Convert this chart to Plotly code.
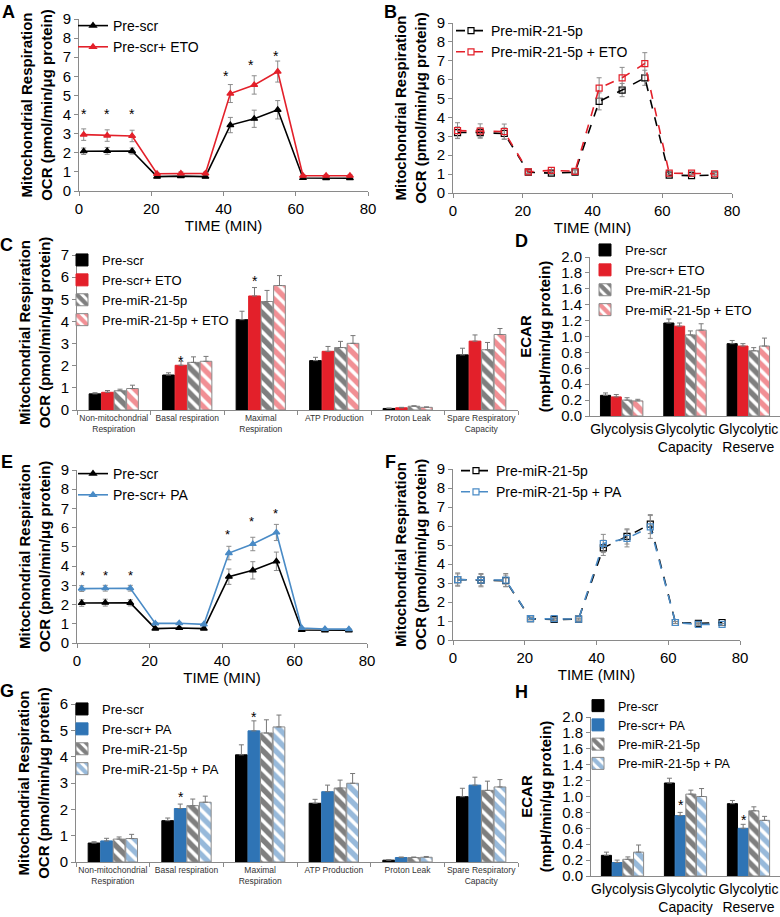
import plotly.graph_objects as go

W, H = 780, 917
FONT = "Liberation Sans"
AXC = "#8a8a8a"
RED = "#e3202a"
BLUE_BAR = "#2f74b5"
BLUE_LINE = "#4a8bc6"

# ---------------- data ----------------
time_min = [1.3, 7.8, 14.7, 21.6, 28.2, 35.0, 41.9, 48.5, 55.0, 62.0, 68.4, 75.0]

a_scr = [2.08, 2.10, 2.09, 0.75, 0.78, 0.75, 3.45, 3.78, 4.25, 0.68, 0.67, 0.67]
a_scr_err = [0.17, 0.18, 0.16, 0.06, 0.06, 0.06, 0.40, 0.45, 0.48, 0.05, 0.05, 0.05]
a_eto = [2.95, 2.90, 2.88, 0.90, 0.92, 0.92, 5.10, 5.55, 6.25, 0.80, 0.80, 0.80]
a_eto_err = [0.30, 0.30, 0.30, 0.07, 0.08, 0.07, 0.47, 0.48, 0.55, 0.05, 0.05, 0.05]

b_mir = [3.20, 3.20, 3.15, 1.10, 1.05, 1.10, 4.85, 5.45, 6.10, 0.95, 0.92, 0.95]
b_mir_err = [0.30, 0.25, 0.30, 0.05, 0.08, 0.08, 0.45, 0.35, 0.40, 0.05, 0.05, 0.05]
b_eto = [3.30, 3.28, 3.25, 1.12, 1.20, 1.15, 5.55, 6.10, 6.85, 1.05, 1.05, 1.02]
b_eto_err = [0.42, 0.38, 0.40, 0.08, 0.15, 0.10, 0.55, 0.55, 0.58, 0.06, 0.08, 0.06]

e_scr = [2.08, 2.10, 2.09, 0.75, 0.78, 0.75, 3.45, 3.78, 4.25, 0.68, 0.66, 0.66]
e_scr_err = [0.17, 0.18, 0.16, 0.06, 0.06, 0.06, 0.40, 0.45, 0.48, 0.05, 0.05, 0.05]
e_pa = [2.83, 2.85, 2.85, 1.02, 1.03, 0.97, 4.68, 5.15, 5.75, 0.78, 0.73, 0.72]
e_pa_err = [0.15, 0.15, 0.15, 0.05, 0.05, 0.05, 0.35, 0.35, 0.42, 0.03, 0.03, 0.03]

f_mir = [3.18, 3.15, 3.12, 1.12, 1.08, 1.10, 4.85, 5.45, 6.10, 0.92, 0.88, 0.92]
f_mir_err = [0.30, 0.30, 0.30, 0.05, 0.05, 0.05, 0.40, 0.40, 0.50, 0.05, 0.05, 0.05]
f_pa = [3.18, 3.15, 3.15, 1.12, 1.12, 1.10, 5.08, 5.35, 5.95, 0.92, 0.82, 0.82]
f_pa_err = [0.35, 0.35, 0.35, 0.06, 0.06, 0.05, 0.48, 0.45, 0.60, 0.06, 0.05, 0.05]

ocr_cats = ["Non-mitochondrial<br>Respiration", "Basal respiration", "Maximal<br>Respiration",
            "ATP Production", "Proton Leak", "Spare Respiratory<br>Capacity"]
ecar_cats = ["Glycolysis", "Glycolytic<br>Capacity", "Glycolytic<br>Reserve"]

c_scr = [0.73, 1.58, 4.08, 2.23, 0.07, 2.49]
c_scr_err = [0.05, 0.10, 0.38, 0.15, 0.02, 0.30]
c_eto = [0.80, 2.02, 5.15, 2.65, 0.10, 3.11]
c_eto_err = [0.08, 0.18, 0.38, 0.22, 0.02, 0.28]
c_mir = [0.87, 2.15, 4.90, 2.82, 0.17, 2.72]
c_mir_err = [0.07, 0.25, 0.50, 0.28, 0.02, 0.33]
c_mir_eto = [0.97, 2.20, 5.62, 3.01, 0.12, 3.41]
c_mir_eto_err = [0.15, 0.22, 0.45, 0.35, 0.02, 0.27]

d_scr = [0.26, 1.17, 0.91]
d_scr_err = [0.03, 0.05, 0.04]
d_eto = [0.24, 1.13, 0.88]
d_eto_err = [0.03, 0.04, 0.03]
d_mir = [0.20, 1.02, 0.82]
d_mir_err = [0.03, 0.05, 0.04]
d_mir_eto = [0.19, 1.08, 0.88]
d_mir_eto_err = [0.02, 0.08, 0.10]

g_scr = [0.72, 1.57, 4.07, 2.23, 0.07, 2.48]
g_scr_err = [0.05, 0.10, 0.38, 0.15, 0.02, 0.32]
g_pa = [0.80, 2.03, 4.98, 2.67, 0.17, 2.92]
g_pa_err = [0.10, 0.17, 0.38, 0.25, 0.02, 0.30]
g_mir = [0.87, 2.14, 4.90, 2.81, 0.17, 2.72]
g_mir_err = [0.08, 0.25, 0.50, 0.30, 0.02, 0.35]
g_mir_pa = [0.89, 2.27, 5.13, 2.99, 0.18, 2.85]
g_mir_pa_err = [0.16, 0.23, 0.45, 0.37, 0.03, 0.28]

h_scr = [0.26, 1.17, 0.91]
h_scr_err = [0.04, 0.06, 0.04]
h_pa = [0.17, 0.76, 0.60]
h_pa_err = [0.03, 0.04, 0.05]
h_mir = [0.21, 1.03, 0.82]
h_mir_err = [0.03, 0.05, 0.05]
h_mir_pa = [0.30, 1.00, 0.70]
h_mir_pa_err = [0.09, 0.10, 0.05]

# significance marks
a_star_x = [1.3, 7.8, 14.7, 40.6, 47.5, 54.5]
a_star_y = [4.24, 4.24, 4.24, 6.25, 6.81, 7.27]
e_star_x = [1.5, 7.9, 14.8, 41.5, 48.2, 54.8]
e_star_y = [3.72, 3.72, 3.72, 5.85, 6.52, 6.92]
c_star_cat = ["Basal respiration", "Maximal<br>Respiration"]
c_star_y = [2.38, 6.02]
g_star_cat = ["Basal respiration", "Maximal<br>Respiration"]
g_star_y = [2.62, 5.66]
h_star_cat = ["Glycolytic<br>Capacity", "Glycolytic<br>Reserve"]
h_star_y = [0.94, 0.75]

ocr_title = "Mitochondrial Respiration<br>OCR (pmol/min/\u03bcg protein)"
ecar_title = "ECAR<br>(mpH/min/\u03bcg protein)"

# ---------------- layout geometry (pixels) ----------------
panels = {
    1: dict(x=(79, 368), y=(19, 191)),    # A
    2: dict(x=(453, 732), y=(23, 193)),   # B
    3: dict(x=(77, 518), y=(255, 410)),   # C
    4: dict(x=(590, 780), y=(257, 416)),  # D
    5: dict(x=(77, 367), y=(470, 643)),   # E
    6: dict(x=(453, 740), y=(469, 640)),  # F
    7: dict(x=(76, 518), y=(704, 862)),   # G
    8: dict(x=(591, 780), y=(717, 876)),  # H
}


def xr(n):
    return "x" if n == 1 else f"x{n}"


def yr(n):
    return "y" if n == 1 else f"y{n}"


def lg(n):
    return "legend" if n == 1 else f"legend{n}"


fig = go.Figure()


def add_line(n, name, y, err, color, dash, symbol):
    fig.add_trace(go.Scatter(
        x=time_min, y=y, name=name, mode="lines+markers",
        line=dict(color=color, width=1.6, dash=dash),
        marker=dict(symbol=symbol, size=6, color=color, line=dict(color=color, width=1.2)),
        error_y=dict(type="data", array=err, color="#8c8c8c", thickness=1, width=2.5),
        xaxis=xr(n), yaxis=yr(n), legend=lg(n)))


def add_bar(n, name, cats, y, err, color, hatched):
    if hatched:
        marker = dict(color="white", line=dict(color="#8a8a8a", width=1),
                      pattern=dict(shape="\\", fgcolor=color, bgcolor="white",
                                   size=9, solidity=0.6))
    else:
        marker = dict(color=color, line=dict(color=color, width=1))
    fig.add_trace(go.Bar(
        x=cats, y=y, name=name, marker=marker,
        error_y=dict(type="data", array=err, arrayminus=[0] * len(err), symmetric=False,
                     color="#777777", thickness=1, width=2.5),
        xaxis=xr(n), yaxis=yr(n), legend=lg(n)))


# A
add_line(1, "Pre-scr", a_scr, a_scr_err, "black", "solid", "triangle-up")
add_line(1, "Pre-scr+ ETO", a_eto, a_eto_err, RED, "solid", "triangle-up")
# B
add_line(2, "Pre-miR-21-5p", b_mir, b_mir_err, "black", "dash", "square-open")
add_line(2, "Pre-miR-21-5p + ETO", b_eto, b_eto_err, RED, "dash", "square-open")
# C
add_bar(3, "Pre-scr", ocr_cats, c_scr, c_scr_err, "black", False)
add_bar(3, "Pre-scr+ ETO", ocr_cats, c_eto, c_eto_err, RED, False)
add_bar(3, "Pre-miR-21-5p", ocr_cats, c_mir, c_mir_err, "black", True)
add_bar(3, "Pre-miR-21-5p + ETO", ocr_cats, c_mir_eto, c_mir_eto_err, RED, True)
# D
add_bar(4, "Pre-scr", ecar_cats, d_scr, d_scr_err, "black", False)
add_bar(4, "Pre-scr+ ETO", ecar_cats, d_eto, d_eto_err, RED, False)
add_bar(4, "Pre-miR-21-5p", ecar_cats, d_mir, d_mir_err, "black", True)
add_bar(4, "Pre-miR-21-5p + ETO", ecar_cats, d_mir_eto, d_mir_eto_err, RED, True)
# E
add_line(5, "Pre-scr", e_scr, e_scr_err, "black", "solid", "triangle-up")
add_line(5, "Pre-scr+ PA", e_pa, e_pa_err, BLUE_LINE, "solid", "triangle-up")
# F
add_line(6, "Pre-miR-21-5p", f_mir, f_mir_err, "black", "dash", "square-open")
add_line(6, "Pre-miR-21-5p + PA", f_pa, f_pa_err, BLUE_LINE, "dash", "square-open")
# G
add_bar(7, "Pre-scr", ocr_cats, g_scr, g_scr_err, "black", False)
add_bar(7, "Pre-scr+ PA", ocr_cats, g_pa, g_pa_err, BLUE_BAR, False)
add_bar(7, "Pre-miR-21-5p", ocr_cats, g_mir, g_mir_err, "black", True)
add_bar(7, "Pre-miR-21-5p + PA", ocr_cats, g_mir_pa, g_mir_pa_err, BLUE_BAR, True)
# H
add_bar(8, "Pre-scr", ecar_cats, h_scr, h_scr_err, "black", False)
add_bar(8, "Pre-scr+ PA", ecar_cats, h_pa, h_pa_err, BLUE_BAR, False)
add_bar(8, "Pre-miR-21-5p", ecar_cats, h_mir, h_mir_err, "black", True)
add_bar(8, "Pre-miR-21-5p + PA", ecar_cats, h_mir_pa, h_mir_pa_err, BLUE_BAR, True)

layout = dict(
    width=W, height=H, margin=dict(l=0, r=0, t=0, b=0),
    paper_bgcolor="white", plot_bgcolor="white",
    font=dict(family=FONT, color="black", size=15),
    barmode="group", bargap=0.32, bargroupgap=0.06,
    showlegend=True,
)

y_ranges = {1: [0, 9], 2: [0, 9], 3: [0, 7], 4: [0, 2], 5: [0, 9], 6: [0, 9], 7: [0, 6], 8: [0, 2]}
for n, p in panels.items():
    xa = "xaxis" if n == 1 else f"xaxis{n}"
    ya = "yaxis" if n == 1 else f"yaxis{n}"
    line_panel = n in (1, 2, 5, 6)
    xd = dict(domain=[p["x"][0] / W, p["x"][1] / W], anchor=yr(n), showline=True,
              linecolor=AXC, linewidth=1, showgrid=False, zeroline=False,
              ticks="outside", tickcolor=AXC, ticklen=4, automargin=False)
    if line_panel:
        xd.update(range=[0, 80], dtick=20, tickfont=dict(size=15),
                  title=dict(text="TIME (MIN)", font=dict(size=15), standoff=0))
    elif n in (3, 7):
        xd.update(type="category", tickson="boundaries", ticklen=4, tickangle=0,
                  tickfont=dict(size=8.5, color="#333333"))
    else:
        xd.update(type="category", ticks="", tickangle=0, tickfont=dict(size=14))
    yd = dict(domain=[1 - p["y"][1] / H, 1 - p["y"][0] / H], anchor=xr(n), range=y_ranges[n],
              showline=True, linecolor=AXC, linewidth=1, showgrid=False, zeroline=False,
              ticks="outside", tickcolor=AXC, ticklen=4, tickfont=dict(size=15),
              automargin=False,
              title=dict(text=ecar_title if n in (4, 8) else ocr_title, standoff=6,
                         font=dict(size=15, family=FONT, weight=700)))
    if n in (4, 8):
        yd.update(dtick=0.2, tickformat=".1f")
    else:
        yd.update(dtick=1)
    layout[xa] = xd
    layout[ya] = yd

# legend: (left px, top px, font size)
legend_pos = {1: (73, 10, 14), 2: (451, 15, 14), 3: (62, 245, 13), 4: (585, 235, 13),
              5: (73, 458, 14), 6: (456, 455, 14), 7: (62, 694, 13), 8: (578, 691, 12.5)}
for n, (lx, ly, fs) in legend_pos.items():
    layout[lg(n)] = dict(x=lx / W, y=1 - ly / H, xanchor="left", yanchor="top",
                         bgcolor="rgba(0,0,0,0)", font=dict(size=fs, family=FONT),
                         tracegroupgap=0, itemwidth=30)

fig.update_layout(**layout)

ann = []
# panel letters
for letter, (lx, ly) in {"A": (8, 12), "B": (390, 12), "C": (7, 245), "D": (521, 241),
                         "E": (7, 462), "F": (390, 462), "G": (7, 691), "H": (521, 692)}.items():
    ann.append(dict(text=letter, x=lx / W, y=1 - ly / H, xref="paper", yref="paper",
                    showarrow=False, xanchor="center", yanchor="middle",
                    font=dict(size=18, family=FONT, weight=700)))
# asterisks
for sx, sy in zip(a_star_x, a_star_y):
    ann.append(dict(text="*", x=sx, y=sy, xref="x", yref="y", showarrow=False,
                    yshift=-4, font=dict(size=14)))
for sx, sy in zip(e_star_x, e_star_y):
    ann.append(dict(text="*", x=sx, y=sy, xref="x5", yref="y5", showarrow=False,
                    yshift=-4, font=dict(size=13)))
for sx, sy in zip(c_star_cat, c_star_y):
    ann.append(dict(text="*", x=sx, y=sy, xref="x3", yref="y3", showarrow=False,
                    xshift=-6, yshift=-4, font=dict(size=14)))
for sx, sy in zip(g_star_cat, g_star_y):
    ann.append(dict(text="*", x=sx, y=sy, xref="x7", yref="y7", showarrow=False,
                    xshift=-6, yshift=-4, font=dict(size=14)))
for sx, sy in zip(h_star_cat, h_star_y):
    ann.append(dict(text="*", x=sx, y=sy, xref="x8", yref="y8", showarrow=False,
                    xshift=-5, yshift=-4, font=dict(size=14)))

fig.update_layout(annotations=ann)
fig.write_html("out.html", config={"displayModeBar": False},
               post_script="document.body.style.margin='0';document.body.style.overflow='hidden';")
